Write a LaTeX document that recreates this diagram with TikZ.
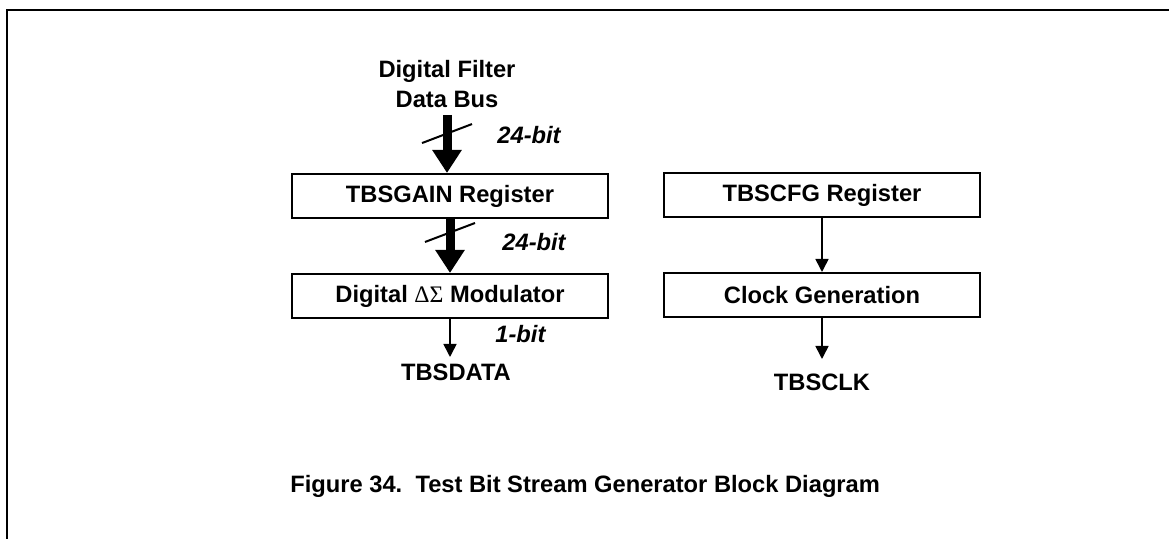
\documentclass[tikz,border=0pt]{standalone}
\usepackage{fontspec}
\setmainfont{Liberation Sans}
\newfontfamily\greekfont{Liberation Serif}
\usepackage{tikz}
\usetikzlibrary{arrows.meta, positioning}

\begin{document}
\begin{tikzpicture}[x=0.5pt, y=-0.5pt,
  box/.style={rectangle, draw, line width=1pt, minimum width=158pt, minimum height=22pt,
              font=\fontsize{11.85}{15}\selectfont\bfseries},
  txt/.style={font=\fontsize{11.85}{15}\selectfont\bfseries, align=center},
  bits/.style={font=\fontsize{11.85}{15}\selectfont\bfseries\itshape, inner sep=0pt, anchor=base west},
  busarr/.style={-{Triangle[length=11.5pt, width=14pt]}, line width=4.5pt},
  arr/.style={-{Triangle[length=6.5pt, width=6.5pt]}, line width=0.8pt},
  slash/.style={line width=1pt}
]
\useasboundingbox (0,0) rectangle (1169,539);
\draw[line width=1pt] (7,539) -- (7,10) -- (1169,10);

\node[box] (gain) at (450,196) {TBSGAIN Register};
\node[box, below=27pt of gain] (mod) {Digital {\greekfont\mdseries ΔΣ} Modulator};
\node[box, right=27pt of gain, yshift=0.5pt] (cfg) {TBSCFG Register};
\node[box, below=27pt of cfg] (clk) {Clock Generation};

\node[txt, anchor=south] (bus) at (447,115) {Digital Filter\\Data Bus};
\node[txt, below=19pt of mod, xshift=3pt] (data) {TBSDATA};
\node[txt, below=24.5pt of clk] (tclk) {TBSCLK};

% bus widths
\node[bits] (w1) at (497,144) {24-bit};
\node[bits] (w2) at (502,251) {24-bit};
\node[bits] (w3) at (495,343) {1-bit};

\draw[busarr] (bus.south) -- coordinate[pos=0.32] (s1) (bus.south |- gain.north);
\draw[slash] ([shift={(-25,9.5)}]s1) -- ([shift={(25,-9.5)}]s1);
\draw[busarr] (gain) -- coordinate[pos=0.25] (s2) (mod);
\draw[slash] ([shift={(-25,9.5)}]s2) -- ([shift={(25,-9.5)}]s2);
\draw[arr] (mod.south) -- (mod.south |- data.north);
\draw[arr] (cfg) -- (clk);
\draw[arr, shorten >=4pt] (clk) -- (tclk);

\node[txt, anchor=base west, inner sep=0pt] (cap) at (290,493)
  {Figure 34.\ \ Test Bit Stream Generator Block Diagram};
\end{tikzpicture}
\end{document}
